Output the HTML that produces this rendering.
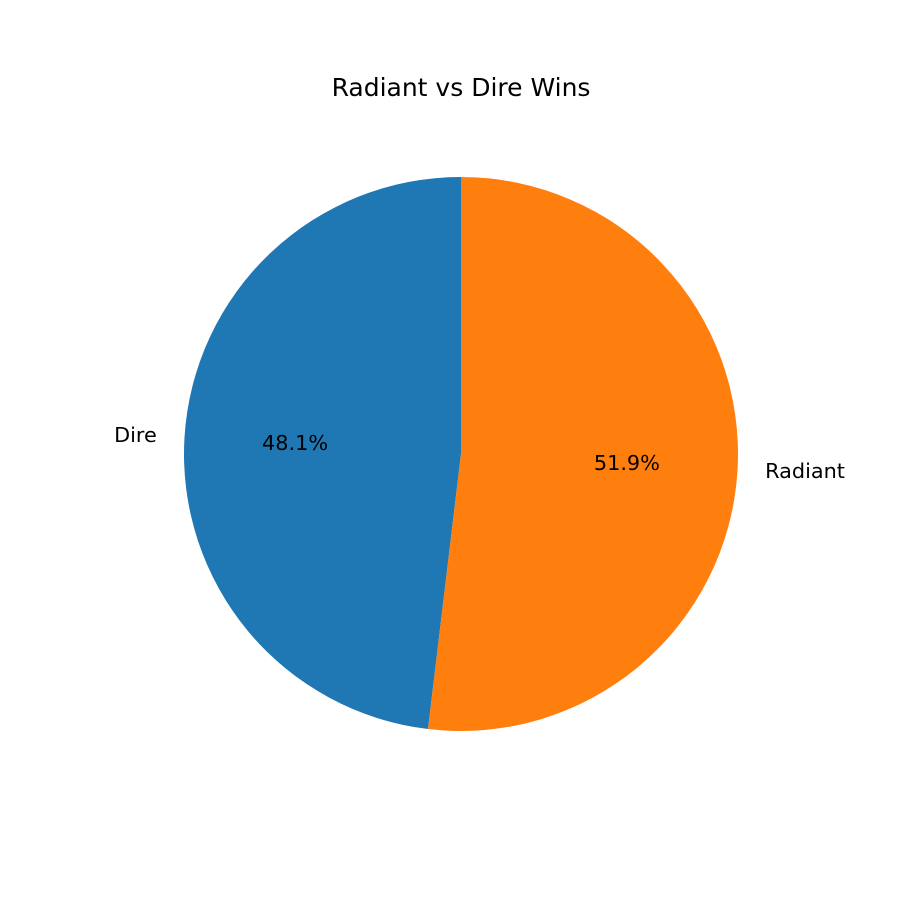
<!DOCTYPE html>
<html><head><meta charset="utf-8"><style>
html,body{margin:0;padding:0;background:#fff;}
svg{display:block;font-family:"DejaVu Sans","Liberation Sans",sans-serif;}
</style></head><body>
<svg id="chart" width="900" height="900" viewBox="0 0 900 900">
<rect width="900" height="900" fill="#fff"/>
<text x="461" y="96" text-anchor="middle" font-size="25" fill="#000">Radiant vs Dire Wins</text>
<g id="slices"></g>
</svg>
<script>
const categories = ["Dire", "Radiant"];
const values = [48.1, 51.9];
const colors = ["#1f77b4", "#ff7f0e"];
const cx = 461, cy = 454, r = 277, startAngle = 90;
const NS = "http://www.w3.org/2000/svg";
const g = document.getElementById("slices");
const total = values.reduce((a,b)=>a+b,0);
let a0 = startAngle;
function pt(angle, rad){const t=angle*Math.PI/180;return [cx+rad*Math.cos(t), cy-rad*Math.sin(t)];}
values.forEach((v,i)=>{
  const sweep = v/total*360;
  const a1 = a0 + sweep;
  const p0 = pt(a0,r), p1 = pt(a1,r);
  const large = sweep>180?1:0;
  const path = document.createElementNS(NS,"path");
  path.setAttribute("d",`M${cx},${cy} L${p0[0]},${p0[1]} A${r},${r} 0 ${large} 0 ${p1[0]},${p1[1]} Z`);
  path.setAttribute("fill",colors[i]);
  
  
  g.appendChild(path);
  const mid = (a0+a1)/2;
  const lp = pt(mid, 1.1*r);
  const lab = document.createElementNS(NS,"text");
  lab.setAttribute("x",lp[0]);lab.setAttribute("y",lp[1]+6);
  lab.setAttribute("font-size","20.8");
  lab.setAttribute("text-anchor", Math.cos(mid*Math.PI/180)<0?"end":"start");
  lab.textContent = categories[i];
  
  
  g.appendChild(lab);
  const pp = pt(mid, 0.6*r);
  const pct = document.createElementNS(NS,"text");
  pct.setAttribute("x",pp[0]);pct.setAttribute("y",pp[1]+6);
  pct.setAttribute("font-size","20.8");
  pct.setAttribute("text-anchor","middle");
  pct.textContent = v.toFixed(1)+"%";
  
  
  g.appendChild(pct);
  a0 = a1;
});
</script>
</body></html>
